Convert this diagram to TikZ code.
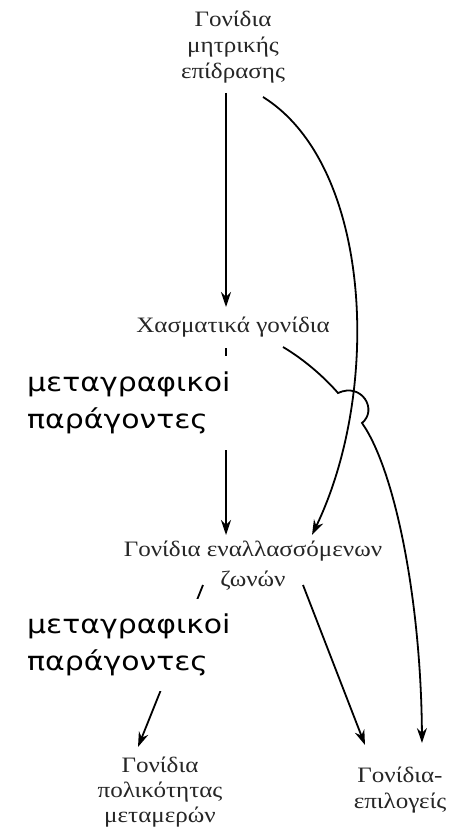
\documentclass[tikz,border=0pt]{standalone}
\usepackage{fontspec}
\setmainfont{Liberation Serif}
\newfontfamily\grserif[FakeStretch=1.14]{Liberation Serif}
\newfontfamily\grsans[FakeStretch=1.15]{DejaVu Sans}
\usetikzlibrary{arrows.meta}
\begin{document}
\begin{tikzpicture}[x=1pt,y=-1pt,
  lbl/.style={align=center,inner sep=0pt,text=black!85,font=\grserif\fontsize{22}{26}\selectfont},
  tf/.style={align=left,inner sep=0pt,fill=white,font=\grsans\fontsize{26}{37}\selectfont},
  conn/.style={line width=1.8pt,-{Stealth[length=15pt,width=10pt]}},
  plain/.style={line width=1.8pt}]
\useasboundingbox[fill=white] (0,0) rectangle (465,829);
% nodes
\node[lbl] (mat) at (233,47) {Γονίδια\\μητρικής\\επίδρασης};
\node[lbl] (gap) at (233,327) {Χασματικά γονίδια};
\node[lbl,font=\grserif\fontsize{22}{30}\selectfont] (pair) at (253,566) {Γονίδια εναλλασσόμενων\\ζωνών};
\node[lbl,font=\grserif\fontsize{22}{25}\selectfont] (pol) at (160,792) {Γονίδια\\πολικότητας\\μεταμερών};
\node[lbl] (sel) at (400,790) {Γονίδια-\\επιλογείς};
% connector end points
\coordinate (m1) at (226,93);
\coordinate (m1e) at (226,307);
\coordinate (m2) at (263,97);
\coordinate (p1e) at (312,535);
\coordinate (g1) at (226,348);
\coordinate (p2e) at (226,535);
\coordinate (g2) at (283,347);
\coordinate (j1) at (338,393);
\coordinate (j2) at (362,423);
\coordinate (s1e) at (422,743);
\coordinate (b1) at (203,585);
\coordinate (pole) at (138,747);
\coordinate (b2) at (303,585);
\coordinate (s2e) at (365,745);
% connectors
\draw[conn] (m1) -- (m1e);
\draw[conn] (m2) .. controls (372,165) and (382,390) .. (p1e);
\draw[conn] (g1) -- (p2e);
\draw[conn] (g2) .. controls (305,360) and (325,378) .. (j1)
   .. controls (362,382) and (378,410) .. (j2)
   .. controls (395,470) and (421,600) .. (s1e);
\draw[conn] (b1) -- (pole);
\draw[conn] (b2) -- (s2e);
% overlaid labels
\node[tf,anchor=west,minimum height=94pt] (tf1) at (27,403) {μεταγραφικοi\\παράγοντες};
\node[tf,anchor=west,minimum height=92pt] (tf2) at (27,645) {μεταγραφικοi\\παράγοντες};
\end{tikzpicture}
\end{document}
